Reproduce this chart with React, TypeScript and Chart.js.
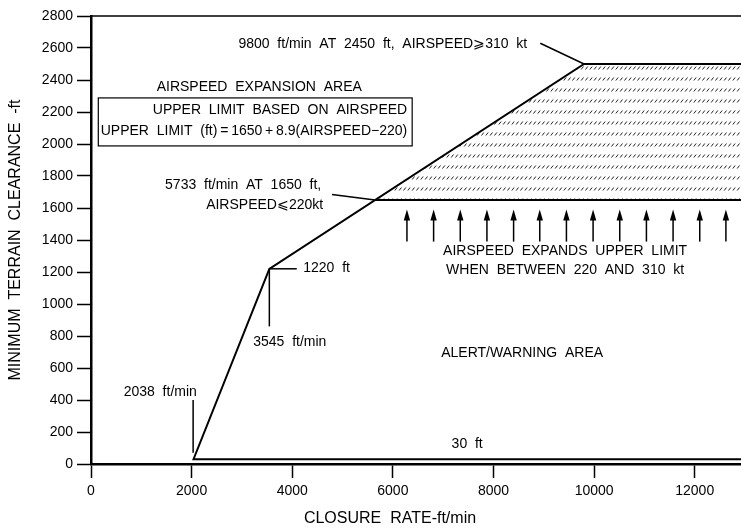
import React, { useEffect, useRef } from 'react';
import { Chart, registerables } from 'chart.js';
Chart.register(...registerables);

const FONT = "'Liberation Sans', Arial, Helvetica, sans-serif";

// axis ranges and ticks
const X_MIN = 0;
const X_MAX = 12920;
const Y_MIN = 0;
const Y_MAX = 2800;
const xTicks = [0, 2000, 4000, 6000, 8000, 10000, 12000];
const yTicks = [0, 200, 400, 600, 800, 1000, 1200, 1400, 1600, 1800, 2000, 2200, 2400, 2600, 2800];
const X_TITLE = 'CLOSURE  RATE-ft/min';
const Y_TITLE = 'MINIMUM  TERRAIN  CLEARANCE  -ft';

// alert / warning boundary (closure rate ft/min, clearance ft)
const boundaryX = [13500, 2038, 3545, 9800, 13500];
const boundaryY = [30, 30, 1220, 2500, 2500];
// 1650 ft upper limit at 220 kt
const limitX = [5646, 13500];
const limitY = [1650, 1650];
// airspeed expansion (hatched) area
const expansionX = [5646, 9800, 13500, 13500];
const expansionY = [1650, 2500, 2500, 1650];
// top frame
const frameX = [0, 13500];
const frameY = [2800, 2800];
// upward arrows
const arrowX = [6280, 6810, 7340, 7870, 8400, 8920, 9450, 9980, 10510, 11040, 11570, 12100, 12620];
const arrowTailY = 1390;
const arrowTipY = 1590;

// leader lines [x1, y1, x2, y2]
const leaders: number[][] = [
  [2030, 70, 2030, 400],
  [3545, 1220, 4090, 1220],
  [3545, 1220, 3545, 860],
  [4790, 1685, 5646, 1650],
  [8930, 2630, 9800, 2500],
];

// text labels
const labels = [
  { text: '9800  ft/min  AT  2450  ft,  AIRSPEED\u2A7E310  kt', x: 8670, y: 2625, align: 'right' },
  { text: 'AIRSPEED  EXPANSION  AREA', x: 3344, y: 2356, align: 'center' },
  { text: 'UPPER  LIMIT  BASED  ON  AIRSPEED', x: 6285, y: 2212, align: 'right' },
  { text: 'UPPER  LIMIT  (ft)\u2009=\u20091650\u2009+\u20098.9(AIRSPEED\u2212220)', x: 6285, y: 2081, align: 'right' },
  { text: '5733  ft/min  AT  1650  ft,', x: 4576, y: 1744, align: 'right' },
  { text: 'AIRSPEED\u2A7D220kt', x: 4615, y: 1619, align: 'right' },
  { text: '1220  ft', x: 4218, y: 1225, align: 'left' },
  { text: '3545  ft/min', x: 3225, y: 762, align: 'left' },
  { text: '2038  ft/min', x: 1377, y: 450, align: 'center' },
  { text: 'AIRSPEED  EXPANDS  UPPER  LIMIT', x: 9424, y: 1331, align: 'center' },
  { text: 'WHEN  BETWEEN  220  AND  310  kt', x: 9424, y: 1212, align: 'center' },
  { text: 'ALERT/WARNING  AREA', x: 8570, y: 694, align: 'center' },
  { text: '30  ft', x: 7477, y: 125, align: 'center' },
];

// formula box [x1, y1, x2, y2]
const box = [145, 2288, 6384, 1988];

const zip = (xs: number[], ys: number[]) => xs.map((x, i) => ({ x, y: ys[i] }));

function makePattern(): CanvasPattern | string {
  const c = document.createElement('canvas');
  c.width = 13;
  c.height = 11;
  const g = c.getContext('2d');
  if (!g) return '#ccc';
  g.strokeStyle = '#222';
  g.lineWidth = 1;
  for (let i = 0; i < 3; i++) {
    const x0 = i * 4.33;
    g.beginPath();
    g.moveTo(x0 + 0.5, 3.5);
    g.lineTo(x0 + 2.8, 0.5);
    g.stroke();
  }
  const p = g.createPattern(c, 'repeat');
  return p || '#ccc';
}

const annotationPlugin = {
  id: 'annot',
  afterDatasetsDraw(chart: any) {
    const ctx = chart.ctx as CanvasRenderingContext2D;
    const xs = chart.scales.x;
    const ys = chart.scales.y;
    const px = (v: number) => xs.getPixelForValue(v);
    const py = (v: number) => ys.getPixelForValue(v);
    ctx.save();
    ctx.strokeStyle = '#000';
    ctx.fillStyle = '#000';
    // leaders
    ctx.lineWidth = 1.5;
    for (const [x1, y1, x2, y2] of leaders) {
      ctx.beginPath();
      ctx.moveTo(px(x1), py(y1));
      ctx.lineTo(px(x2), py(y2));
      ctx.stroke();
    }
    // arrows
    for (const ax of arrowX) {
      const x = px(ax);
      const yT = py(arrowTailY);
      const yH = py(arrowTipY);
      ctx.lineWidth = 1.5;
      ctx.beginPath();
      ctx.moveTo(x, yT);
      ctx.lineTo(x, yH + 8);
      ctx.stroke();
      ctx.beginPath();
      ctx.moveTo(x, yH);
      ctx.lineTo(x - 3.2, yH + 11);
      ctx.lineTo(x + 3.2, yH + 11);
      ctx.closePath();
      ctx.fill();
    }
    // box
    ctx.lineWidth = 1.2;
    const bx1 = px(box[0]);
    const by1 = py(box[1]);
    const bx2 = px(box[2]);
    const by2 = py(box[3]);
    ctx.strokeRect(bx1, by1, bx2 - bx1, by2 - by1);
    // labels
    ctx.font = `14px ${FONT}`;
    ctx.textBaseline = 'middle';
    for (const l of labels) {
      ctx.textAlign = l.align as CanvasTextAlign;
      ctx.fillText(l.text, px(l.x), py(l.y));
    }
    // axis titles
    const area = chart.chartArea;
    ctx.font = `16px ${FONT}`;
    ctx.textAlign = 'center';
    ctx.fillText(X_TITLE, 390, 519);
    ctx.save();
    ctx.translate(16, (area.top + area.bottom) / 2);
    ctx.rotate(-Math.PI / 2);
    ctx.fillText(Y_TITLE, 0, 0);
    ctx.restore();
    ctx.restore();
  },
};

export default function App() {
  const ref = useRef<HTMLCanvasElement | null>(null);
  useEffect(() => {
    if (!ref.current) return;
    const lineDs = (data: any[], extra: any = {}) => ({
      data,
      borderColor: '#000',
      borderWidth: 2,
      pointRadius: 0,
      fill: false,
      tension: 0,
      ...extra,
    });
    const chart = new Chart(ref.current, {
      type: 'line',
      data: {
        datasets: [
          lineDs(zip(boundaryX, boundaryY)),
          lineDs(zip(limitX, limitY)),
          lineDs(zip(frameX, frameY), { borderWidth: 1.5, clip: { left: 0, top: 4, right: 0, bottom: 0 } }),
          lineDs(zip(expansionX, expansionY), {
            borderWidth: 0,
            borderColor: 'rgba(0,0,0,0)',
            fill: 'shape',
            backgroundColor: makePattern(),
          }),
        ] as any,
      },
      options: {
        animation: false,
        responsive: false,
        devicePixelRatio: 1,
        layout: { padding: { top: 16, left: 0, right: 0, bottom: 0 } },
        plugins: { legend: { display: false }, tooltip: { enabled: false } },
        scales: {
          x: {
            type: 'linear',
            min: X_MIN,
            max: X_MAX,
            afterBuildTicks: (s: any) => { s.ticks = xTicks.map((v) => ({ value: v })); },
            ticks: {
              callback: (v: any) => String(v),
              color: '#000',
              font: { family: FONT, size: 14 },
              padding: 5,
              maxRotation: 0,
              autoSkip: false,
            },
            grid: { display: true, drawOnChartArea: false, drawTicks: true, tickLength: 14, tickColor: '#000', tickWidth: 1.5, color: '#000' },
            border: { display: true, color: '#000', width: 2.5 },
            afterFit: (s: any) => { s.height = 64; },
          },
          y: {
            type: 'linear',
            min: Y_MIN,
            max: Y_MAX,
            afterBuildTicks: (s: any) => { s.ticks = yTicks.map((v) => ({ value: v })); },
            ticks: {
              callback: (v: any) => String(v),
              color: '#000',
              font: { family: FONT, size: 14 },
              padding: 4,
              autoSkip: false,
            },
            grid: { display: true, drawOnChartArea: false, drawTicks: true, tickLength: 14, tickColor: '#000', tickWidth: 1.5, color: '#000' },
            border: { display: true, color: '#000', width: 2.5 },
            afterFit: (s: any) => { s.width = 91; },
          },
        },
      } as any,
      plugins: [annotationPlugin],
    });
    return () => chart.destroy();
  }, []);
  return (
    <div style={{ position: 'fixed', left: 0, top: 0, width: 741, height: 528, background: '#fff' }}>
      <canvas ref={ref} width={741} height={528} />
    </div>
  );
}
